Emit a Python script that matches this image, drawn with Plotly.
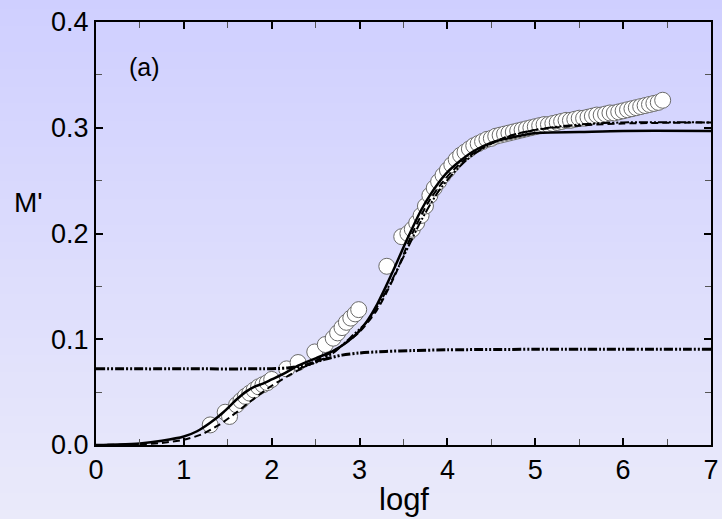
import plotly.graph_objects as go

# ---- data ----
data_x = [1.30, 1.47, 1.52, 1.60, 1.65, 1.70, 1.75, 1.80, 1.85, 1.90, 1.95, 2.00,
          2.17, 2.30, 2.49, 2.61, 2.70, 2.75, 2.80, 2.85, 2.90, 2.95, 2.99,
          3.31, 3.48,
          3.55, 3.60, 3.65, 3.70, 3.75, 3.80, 3.85, 3.90, 3.95, 4.00, 4.05, 4.10,
          4.15, 4.20, 4.25, 4.30, 4.35, 4.40, 4.45, 4.50, 4.55, 4.60, 4.65, 4.70,
          4.75, 4.80, 4.85, 4.90, 4.95, 5.00, 5.05, 5.10, 5.15, 5.20, 5.25, 5.30,
          5.35, 5.40, 5.45, 5.50, 5.55, 5.60, 5.65, 5.70, 5.75, 5.80, 5.85, 5.90,
          5.95, 6.00, 6.05, 6.10, 6.15, 6.20, 6.25, 6.30, 6.35, 6.40, 6.45]
data_y = [0.019, 0.031, 0.027, 0.038, 0.042, 0.046, 0.049, 0.052, 0.055, 0.057, 0.059, 0.062,
          0.072, 0.078, 0.088, 0.095, 0.101, 0.106, 0.111, 0.116, 0.120, 0.124, 0.128,
          0.169, 0.197,
          0.200, 0.204, 0.210, 0.217, 0.226, 0.236, 0.243, 0.249, 0.255, 0.260, 0.265, 0.270,
          0.274, 0.277, 0.280, 0.283, 0.285, 0.287, 0.289, 0.290, 0.292, 0.293, 0.294, 0.295,
          0.296, 0.297, 0.298, 0.299, 0.300, 0.301, 0.302, 0.303, 0.303, 0.304, 0.305, 0.306,
          0.307, 0.307, 0.308, 0.309, 0.309, 0.310, 0.311, 0.312, 0.312, 0.313, 0.314, 0.314,
          0.315, 0.316, 0.317, 0.318, 0.319, 0.320, 0.321, 0.322, 0.323, 0.324, 0.326]

fit_x = [0, 0.25, 0.5, 0.75, 1.0, 1.15, 1.3, 1.45, 1.6, 1.7, 1.8, 1.9, 2.0, 2.15, 2.3,
         2.5, 2.7, 2.85, 3.0, 3.1, 3.2, 3.3, 3.4, 3.5, 3.6, 3.7, 3.8, 3.9, 4.0, 4.15,
         4.3, 4.5, 4.75, 5.0, 5.5, 6.0, 7.0]
fit_y = [0, 0.0005, 0.0015, 0.004, 0.008, 0.013, 0.021, 0.031, 0.043, 0.050, 0.055, 0.058,
         0.062, 0.068, 0.075, 0.082, 0.089, 0.097, 0.108, 0.119, 0.133, 0.150, 0.168, 0.187,
         0.205, 0.222, 0.236, 0.248, 0.258, 0.269, 0.278, 0.286, 0.291, 0.295, 0.296, 0.297, 0.297]

dash_x = [0, 0.5, 0.75, 1.0, 1.2, 1.4, 1.6, 1.8, 2.0, 2.2, 2.4, 2.6, 2.8, 3.0, 3.2, 3.4,
          3.6, 3.8, 4.0, 4.2, 4.4, 4.7, 5.0, 5.5, 6.0, 7.0]
dash_y = [0, 0.0007, 0.002, 0.005, 0.010, 0.019, 0.031, 0.044, 0.056, 0.066, 0.075, 0.084,
          0.094, 0.107, 0.128, 0.160, 0.200, 0.232, 0.254, 0.270, 0.281, 0.292, 0.298,
          0.302, 0.304, 0.305]

low_x = [0, 1.0, 2.0, 2.2, 2.4, 2.6, 2.8, 3.0, 3.3, 3.6, 4.0, 5.0, 7.0]
low_y = [0.072, 0.072, 0.0722, 0.073, 0.076, 0.081, 0.085, 0.087, 0.0885, 0.0893, 0.090,
         0.0905, 0.0905]

high_x = [2.3, 2.5, 2.7, 2.9, 3.1, 3.3, 3.5, 3.7, 3.9, 4.1, 4.3, 4.6, 5.0, 5.5, 6.0, 7.0]
high_y = [0.072, 0.078, 0.087, 0.102, 0.118, 0.145, 0.178, 0.212, 0.240, 0.260, 0.275,
          0.289, 0.298, 0.303, 0.305, 0.305]

x_ticks = [0, 1, 2, 3, 4, 5, 6, 7]
y_ticks = [0.0, 0.1, 0.2, 0.3, 0.4]
y_tick_text = ["0.0", "0.1", "0.2", "0.3", "0.4"]

FONT = "Liberation Sans, Arial, sans-serif"
DDD = "9px,2px,2px,2px,2px,2px"

fig = go.Figure()
fig.add_trace(go.Scatter(x=data_x, y=data_y, mode="markers",
                         marker=dict(symbol="circle", size=16, color="white",
                                     line=dict(color="#6a6a6a", width=1)),
                         showlegend=False))
fig.add_trace(go.Scatter(x=low_x, y=low_y, mode="lines",
                         line=dict(color="black", width=3, dash=DDD, shape="spline", smoothing=0.8),
                         showlegend=False))
fig.add_trace(go.Scatter(x=high_x, y=high_y, mode="lines",
                         line=dict(color="black", width=2, dash=DDD, shape="spline", smoothing=0.8),
                         showlegend=False))
fig.add_trace(go.Scatter(x=dash_x, y=dash_y, mode="lines",
                         line=dict(color="black", width=2, dash="7px,4px", shape="spline", smoothing=0.8),
                         showlegend=False))
fig.add_trace(go.Scatter(x=fit_x, y=fit_y, mode="lines",
                         line=dict(color="black", width=2.5, shape="spline", smoothing=0.8),
                         showlegend=False))

# vertical gradient background drawn as thin bands over the whole page
W, H = 722, 519
L, R, T, B = 96, 11, 22, 74
pw, ph = W - L - R, H - T - B
top_c = (207, 207, 255)
bot_c = (234, 234, 250)
n = 60
shapes = []
for i in range(n):
    f = (i + 0.5) / n
    c = tuple(round(top_c[k] + (bot_c[k] - top_c[k]) * f) for k in range(3))
    y_top_px = i * H / n
    y_bot_px = (i + 1) * H / n + 1
    shapes.append(dict(type="rect", xref="paper", yref="paper", layer="below",
                       x0=-L / pw - 0.01, x1=1 + R / pw + 0.01,
                       y0=(H - B - y_bot_px) / ph, y1=(H - B - y_top_px) / ph,
                       line=dict(width=0), fillcolor="rgb(%d,%d,%d)" % c))

axis_common = dict(showline=True, linecolor="black", linewidth=2, mirror="ticks",
                   ticks="inside", ticklen=7, tickwidth=1.5, tickcolor="black",
                   showgrid=False, zeroline=False,
                   tickfont=dict(family=FONT, size=27, color="black"))

fig.update_layout(
    width=W, height=H,
    margin=dict(l=L, r=R, t=T, b=B, autoexpand=False),
    paper_bgcolor="rgb(220,220,252)",
    plot_bgcolor="rgba(0,0,0,0)",
    shapes=shapes,
    xaxis=dict(range=[0, 7], tickvals=x_ticks, ticktext=[str(v) for v in x_ticks],
               minor=dict(ticks="inside", ticklen=6, tickwidth=1, tickcolor="#555", dtick=0.5, tick0=0),
               **axis_common),
    yaxis=dict(range=[0, 0.4], tickvals=y_ticks, ticktext=y_tick_text,
               minor=dict(ticks="inside", ticklen=6, tickwidth=1, tickcolor="#555", dtick=0.05, tick0=0),
               **axis_common),
    annotations=[
        dict(text="M'", xref="paper", yref="y", x=-0.109, y=0.229, xanchor="center",
             yanchor="middle", showarrow=False,
             font=dict(family=FONT, size=28, color="black")),
        dict(text="logf", xref="x", yref="paper", x=3.5, y=-0.13, xanchor="center",
             yanchor="middle", showarrow=False,
             font=dict(family=FONT, size=31, color="black")),
        dict(text="(a)", xref="x", yref="y", x=0.35, y=0.357, xanchor="left",
             yanchor="middle", showarrow=False,
             font=dict(family=FONT, size=25, color="black")),
    ],
)

fig.write_html("out.html",
               config={"displayModeBar": False},
               post_script="document.body.style.margin='0';document.body.style.overflow='hidden';")
